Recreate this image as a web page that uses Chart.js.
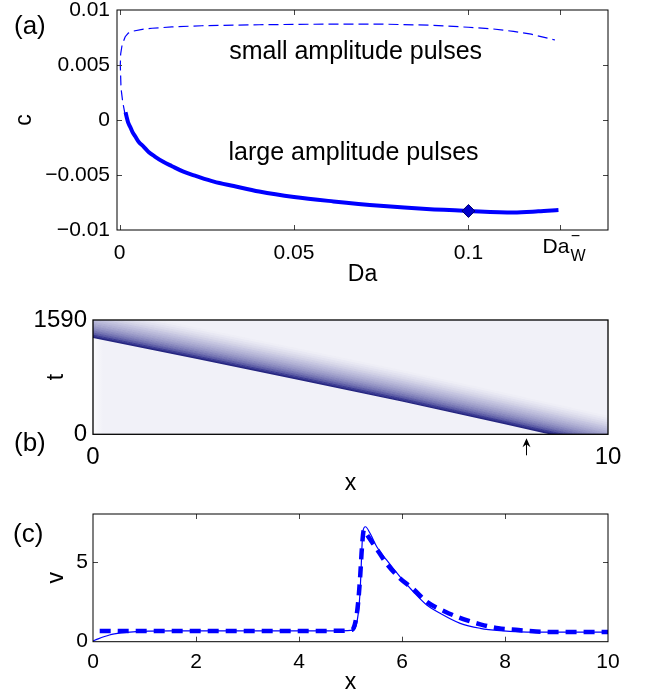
<!DOCTYPE html>
<html>
<head>
<meta charset="utf-8">
<script src="https://cdn.jsdelivr.net/npm/chart.js@4.4.1/dist/chart.umd.min.js"></script>
<style>
  body { margin: 0; background: #fff; }
  #wrap { position: relative; width: 645px; height: 698px; }
  canvas { position: absolute; left: 0; }
  .lab { position: absolute; font: 26px "Liberation Sans", Arial, sans-serif; line-height: 1; color: #000; }
</style>
</head>
<body>
<div id="wrap">
  <canvas id="chartA" width="645" height="290" style="top:0"></canvas>
  <canvas id="chartB" width="645" height="200" style="top:300px"></canvas>
  <canvas id="chartC" width="645" height="198" style="top:500px"></canvas>
  <div class="lab" style="left:14px;top:12px">(a)</div>
  <div class="lab" style="left:14px;top:429px">(b)</div>
  <div class="lab" style="left:13px;top:520px">(c)</div>
</div>
<script>
// (a) travelling pulse speed c against Da
const upperDa = [0.0016, 0.0009, 0.0004, 0.0002, 0.0003, 0.0007, 0.0016, 0.0025, 0.004, 0.0065, 0.0093, 0.015, 0.0236, 0.04, 0.06, 0.0747, 0.09, 0.1, 0.107, 0.1129, 0.118, 0.1248];
const upperC = [0.00045, 0.0016, 0.0029, 0.005, 0.006, 0.0068, 0.00757, 0.0079, 0.00809, 0.00824, 0.00834, 0.00846, 0.00857, 0.00866, 0.00872, 0.00872, 0.00861, 0.00843, 0.00828, 0.00806, 0.0078, 0.00727];
const lowerDa = [0.0017, 0.002, 0.0024, 0.003, 0.0037, 0.0045, 0.0055, 0.0068, 0.0083, 0.01, 0.0125, 0.015, 0.0183, 0.022, 0.027, 0.0327, 0.04, 0.05, 0.0613, 0.0747, 0.088, 0.1, 0.1129, 0.12, 0.1258];
const lowerC = [0.0007, 0.0003, -0.0002, -0.0006, -0.0011, -0.0015, -0.002, -0.0024, -0.0029, -0.0033, -0.0038, -0.0042, -0.0047, -0.0051, -0.0056, -0.006, -0.0065, -0.007, -0.0074, -0.0078, -0.0081, -0.00827, -0.0084, -0.0083, -0.00818];
const markDa = [0.1];
const markC = [-0.00827];
const daW = 0.1261;
const daTicks = [0, 0.05, 0.1, daW];
const cTicks = [-0.01, -0.005, 0, 0.005, 0.01];
const noteText = ["small amplitude pulses", "large amplitude pulses"];
const noteDa = [0.0314, 0.0312];
const noteC = [0.00615, -0.003];

// (b) space-time plot of v: leading edge of the pulse and the tail behind it
const frontX = [0, 2, 4, 6, 8, 8.75, 10];
const frontT = [1349, 1060, 765, 465, 150, 30, -170];
const tailDt = [0, 30, 60, 90, 120, 150, 180, 210, 240, 270, 300, 330, 360, 390, 420];
const tailLevel = [1, 0.8, 0.66, 0.56, 0.48, 0.41, 0.35, 0.29, 0.24, 0.19, 0.14, 0.1, 0.06, 0.03, 0];
const xTicksB = [0, 10];
const tTicks = [0, 1590];
const arrowX = [8.41];

// (c) pulse profile v(x)
const solidX = [0, 0.1, 0.32, 0.55, 0.78, 1.1, 1.5, 2, 3, 4, 4.8, 5.05, 5.12, 5.17, 5.2, 5.22, 5.24, 5.29, 5.38, 5.51, 5.7, 5.96, 6.22, 6.48, 6.74, 7.13, 7.52, 7.9, 8.3, 9, 10];
const solidV = [0.04, 0.18, 0.42, 0.55, 0.62, 0.66, 0.68, 0.68, 0.68, 0.68, 0.68, 0.72, 1.15, 2.4, 4.07, 5.75, 6.9, 7.2, 6.79, 5.95, 5.12, 4.07, 3.13, 2.3, 1.78, 1.15, 0.84, 0.69, 0.62, 0.6, 0.6];
const dashX = [0.13, 1, 2, 3, 4, 4.8, 5.03, 5.1, 5.15, 5.19, 5.22, 5.26, 5.32, 5.48, 5.7, 5.96, 6.22, 6.48, 6.84, 7.19, 7.52, 7.87, 8.26, 8.6, 9, 10];
const dashV = [0.67, 0.67, 0.67, 0.67, 0.67, 0.68, 0.75, 1.3, 2.5, 4.2, 5.8, 7.0, 6.7, 5.95, 4.9, 3.97, 3.3, 2.5, 1.88, 1.42, 1.09, 0.84, 0.73, 0.64, 0.6, 0.6];
const xTicksC = [0, 2, 4, 6, 8, 10];
const vTicks = [0, 5];

const FONT = "'Liberation Sans', Arial, Helvetica, sans-serif";
Chart.defaults.font.family = FONT;
Chart.defaults.color = "#000";
Chart.defaults.animation = false;

const pts = (xs, ys) => xs.map((x, i) => ({ x: x, y: ys[i] }));
const minus = v => String(v).replace("-", "\u2212");

// box round the plot and the little inward ticks on all four sides
const framePlugin = {
  id: "frame",
  beforeDatasetsDraw(chart, args, opts) {
    const { left, top, right, bottom } = chart.chartArea;
    const ctx = chart.ctx;
    if (opts.bg) {
      ctx.save();
      const g = ctx.createLinearGradient(left, 0, left + 10, 0);
      g.addColorStop(0, "#fbfbfd");
      g.addColorStop(1, opts.bg);
      ctx.fillStyle = g;
      ctx.fillRect(left, top, right - left, bottom - top);
      ctx.restore();
    }
  },
  afterDatasetsDraw(chart, args, opts) {
    const { left, top, right, bottom } = chart.chartArea;
    const ctx = chart.ctx;
    ctx.save();
    if (opts.tick) {
      ctx.strokeStyle = "#444";
      ctx.lineWidth = 1;
      ctx.beginPath();
      const xs = chart.scales.x, ys = chart.scales.y;
      xs.ticks.forEach(t => {
        if (t.value <= xs.min || t.value >= xs.max) return;
        const p = Math.round(xs.getPixelForValue(t.value)) + 0.5;
        ctx.moveTo(p, bottom); ctx.lineTo(p, bottom - opts.tick);
        ctx.moveTo(p, top); ctx.lineTo(p, top + opts.tick);
      });
      ys.ticks.forEach(t => {
        if (t.value <= ys.min || t.value >= ys.max) return;
        const p = Math.round(ys.getPixelForValue(t.value)) + 0.5;
        ctx.moveTo(left, p); ctx.lineTo(left + opts.tick, p);
        ctx.moveTo(right, p); ctx.lineTo(right - opts.tick, p);
      });
      ctx.stroke();
    }
    ctx.strokeStyle = "#000";
    ctx.lineWidth = opts.lw || 1;
    ctx.strokeRect(left, top, right - left, bottom - top);
    ctx.restore();
  }
};

function axisX(min, max, ticks, title, o) {
  return {
    type: "linear", min: min, max: max,
    grid: { display: false, drawTicks: false }, border: { display: false },
    afterBuildTicks: s => { s.ticks = ticks.map(v => ({ value: v })); },
    afterFit: s => { s.height = o.h; s.paddingLeft = 0; s.paddingRight = 0; },
    ticks: { autoSkip: false, maxRotation: 0, padding: o.pad, font: { size: o.size },
             callback: o.cb || (v => minus(v)) },
    title: { display: true, text: title, font: { size: 23 }, padding: { top: 0, bottom: o.tpad } }
  };
}
function axisY(min, max, ticks, title, o) {
  return {
    type: "linear", min: min, max: max,
    grid: { display: false, drawTicks: false }, border: { display: false },
    afterBuildTicks: s => { s.ticks = ticks.map(v => ({ value: v })); },
    afterFit: s => { s.width = o.w; s.paddingTop = 0; s.paddingBottom = 0; },
    ticks: { autoSkip: false, padding: o.pad, font: { size: o.size }, callback: v => minus(v) },
    title: { display: true, text: title, font: { size: 23 }, padding: { top: o.tpad, bottom: 0 } }
  };
}

// ---------- (a) ----------
const notesA = {
  id: "notesA",
  afterDraw(chart) {
    const ctx = chart.ctx, xs = chart.scales.x, ys = chart.scales.y;
    ctx.save();
    ctx.fillStyle = "#000";
    ctx.textBaseline = "middle";
    ctx.textAlign = "left";
    ctx.font = "25px " + FONT;
    noteText.forEach((t, i) => ctx.fillText(t, xs.getPixelForValue(noteDa[i]), ys.getPixelForValue(noteC[i])));
    // Da_W^- tick label
    const px = xs.getPixelForValue(daW);
    const cy = chart.chartArea.bottom + 17;
    ctx.font = "21px " + FONT;
    ctx.fillText("Da", px - 17, cy);
    ctx.textAlign = "center";
    ctx.font = "16px " + FONT;
    ctx.fillText("W", px + 18.5, cy + 10);
    ctx.fillText("\u2212", px + 16, cy - 10);
    ctx.restore();
  }
};

new Chart(document.getElementById("chartA"), {
  type: "line",
  data: {
    datasets: [
      { data: pts(markDa, markC), showLine: false, pointStyle: "rectRot", pointRadius: 6.5,
        backgroundColor: "#0000c8", borderColor: "#00006e", borderWidth: 1 },
      { data: pts(upperDa, upperC), borderColor: "#0000ff", borderWidth: 1.2, borderDash: [10, 5],
        pointRadius: 0, tension: 0 },
      { data: pts(lowerDa, lowerC), borderColor: "#0000ff", borderWidth: 4, pointRadius: 0,
        cubicInterpolationMode: "monotone" }
    ]
  },
  options: {
    responsive: false,
    layout: { padding: { top: 10, right: 37, left: 0, bottom: 0 } },
    plugins: { legend: { display: false }, tooltip: { enabled: false }, frame: { tick: 5, lw: 1 } },
    scales: {
      x: axisX(-0.00075, 0.14, daTicks, "Da",
        { h: 60, pad: 11, size: 21, tpad: 2, cb: v => (v === daW ? "" : minus(v)) }),
      y: axisY(-0.01, 0.01, cTicks, "c", { w: 117, pad: 7, size: 21, tpad: 11 })
    }
  },
  plugins: [framePlugin, notesA]
});

// ---------- (b) ----------
const dark = [38, 38, 135], light = [241, 241, 248];
const shade = lv => "rgb(" + dark.map((d, k) => Math.round(light[k] + (d - light[k]) * lv)).join(",") + ")";
const heatSets = tailDt.map((dt, i) => {
  const col = i === 0 ? "#262680" : shade((tailLevel[i - 1] + tailLevel[i]) / 2);
  return {
    data: pts(frontX, frontT.map(t => t + dt)),
    borderWidth: i === 0 ? 1.5 : 1,
    borderColor: col,
    pointRadius: 0,
    fill: i === 0 ? false : "-1",
    backgroundColor: col
  };
});

const arrowB = {
  id: "arrowB",
  afterDraw(chart) {
    const ctx = chart.ctx;
    const px = Math.round(chart.scales.x.getPixelForValue(arrowX[0])) + 0.5;
    const y0 = chart.chartArea.bottom + 4;
    ctx.save();
    ctx.strokeStyle = "#000"; ctx.fillStyle = "#000"; ctx.lineWidth = 1;
    ctx.beginPath(); ctx.moveTo(px, y0 + 4); ctx.lineTo(px, y0 + 17); ctx.stroke();
    ctx.beginPath(); ctx.moveTo(px, y0); ctx.lineTo(px - 4, y0 + 9); ctx.lineTo(px, y0 + 6);
    ctx.lineTo(px + 4, y0 + 9); ctx.closePath(); ctx.fill();
    ctx.restore();
  }
};

new Chart(document.getElementById("chartB"), {
  type: "line",
  data: { datasets: heatSets },
  options: {
    responsive: false,
    layout: { padding: { top: 20, right: 37, left: 0, bottom: 0 } },
    plugins: { legend: { display: false }, tooltip: { enabled: false }, frame: { tick: 0, lw: 1.3, bg: "#f1f1f8" } },
    scales: {
      x: axisX(0, 10, xTicksB, "x", { h: 65.7, pad: 9, size: 24, tpad: 3 }),
      y: axisY(0, 1590, tTicks, "t", { w: 93, pad: 6, size: 24, tpad: 43 })
    }
  },
  plugins: [framePlugin, arrowB]
});

// ---------- (c) ----------
new Chart(document.getElementById("chartC"), {
  type: "line",
  data: {
    datasets: [
      { data: pts(solidX, solidV), borderColor: "#0000ff", borderWidth: 1.2, pointRadius: 0,
        cubicInterpolationMode: "monotone" },
      { data: pts(dashX, dashV), borderColor: "#0000ff", borderWidth: 4.5, borderDash: [11, 7],
        pointRadius: 0, cubicInterpolationMode: "monotone" }
    ]
  },
  options: {
    responsive: false,
    layout: { padding: { top: 14, right: 37, left: 0, bottom: 0 } },
    plugins: { legend: { display: false }, tooltip: { enabled: false }, frame: { tick: 5, lw: 1 } },
    scales: {
      x: axisX(0, 10, xTicksC, "x", { h: 56.3, pad: 8, size: 21, tpad: 2 }),
      y: axisY(0, 8, vTicks, "v", { w: 93, pad: 5, size: 21, tpad: 43 })
    }
  },
  plugins: [framePlugin]
});
</script>
</body>
</html>
